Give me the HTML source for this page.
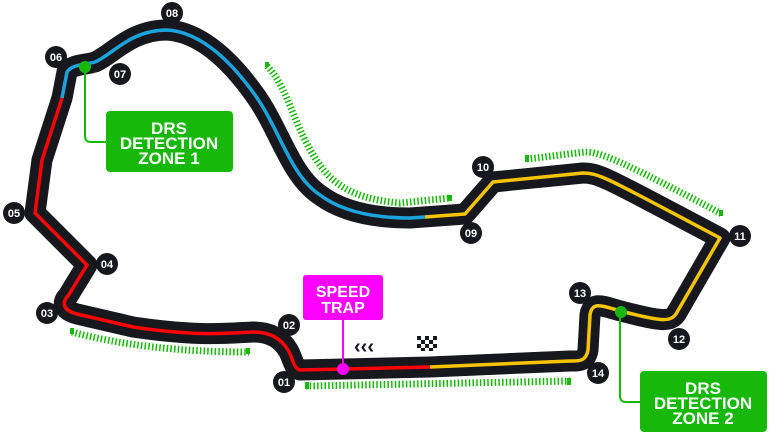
<!DOCTYPE html>
<html><head><meta charset="utf-8"><style>
html,body{margin:0;padding:0;background:#fff;width:771px;height:434px;overflow:hidden}
svg{display:block}
text{font-family:"Liberation Sans",sans-serif;font-weight:bold}
</style></head><body>
<svg width="771" height="434" viewBox="0 0 771 434" xmlns="http://www.w3.org/2000/svg">
<g fill="none" stroke="#17b80a" stroke-width="7" stroke-dasharray="1.5 2.2">
<path d="M267 66 C285 85 290 110 305 140 C325 180 345 198 400 203 L450 198"/>
<path d="M72 332 C120 345 180 352 249 352"/>
<path d="M306 386 L570 381"/>
<path d="M527 159 L585 152 C600 152 620 160 722 214"/>
</g>
<g fill="#17b80a"><rect x="265" y="62" width="4" height="5"/><rect x="448" y="195" width="4" height="6"/><rect x="70" y="328" width="4" height="6"/><rect x="246" y="348" width="4" height="6"/><rect x="305" y="382" width="4" height="7"/><rect x="567" y="378" width="4" height="7"/><rect x="525" y="155" width="4" height="7"/><rect x="719" y="210" width="4" height="6"/></g>
<path d="M430 367 L300 370 C293 368 293 358 288 350 C282 340 272 332 253 332 C230 333 200 337 133 327 L77 314 C62 310 62 302 68 296 L87 265 L35 213 L42 160 L62 98 L67 72 C72 64 85 65 95 62 C112 55 130 30 167 30 C200 32 230 60 255 95 C280 130 290 175 320 195 C340 210 370 218 410 218 L465 214 L493 182 L583 173 C600 173 610 180 720 238 L676 314 C670 322 662 322 617 310 C600 305 592 302 590 315 L588 350 C586 362 578 361 570 361 Z" fill="none" stroke="#17171e" stroke-width="21" stroke-linejoin="round"/>
<g fill="none" stroke-width="3.5" stroke-linejoin="round">
<path d="M430 367 L300 370 C293 368 293 358 288 350 C282 340 272 332 253 332 C230 333 200 337 133 327 L77 314 C62 310 62 302 68 296 L87 265 L35 213 L42 160 L62 98" stroke="#f00"/>
<path d="M62 98 L67 72 C72 64 85 65 95 62 C112 55 130 30 167 30 C200 32 230 60 255 95 C280 130 290 175 320 195 C340 210 370 218 410 218 L425 217" stroke="#1ba4dc"/>
<path d="M425 217 L465 214 L493 182 L583 173 C600 173 610 180 720 238 L676 314 C670 322 662 322 617 310 C600 305 592 302 590 315 L588 350 C586 362 578 361 570 361 L430 367" stroke="#f5c400"/>
</g>
<path d="M85 67 V136 Q85 142 91 142 H106" fill="none" stroke="#17b80a" stroke-width="2"/>
<circle cx="85" cy="67" r="6" fill="#17b80a"/>
<rect x="106" y="111" width="127" height="61" rx="4" fill="#17b80a"/>
<text fill="#fff" font-size="17" text-anchor="middle"><tspan x="169" y="134">DRS</tspan><tspan x="169" y="149">DETECTION</tspan><tspan x="169" y="164">ZONE 1</tspan></text>
<path d="M620 313 V396 Q620 402 626 402 H641" fill="none" stroke="#17b80a" stroke-width="2"/>
<circle cx="621" cy="312" r="6" fill="#17b80a"/>
<rect x="640" y="371" width="127" height="61" rx="4" fill="#17b80a"/>
<text fill="#fff" font-size="17" text-anchor="middle"><tspan x="703" y="394">DRS</tspan><tspan x="703" y="409">DETECTION</tspan><tspan x="703" y="424">ZONE 2</tspan></text>
<line x1="343" y1="318" x2="343" y2="368" stroke="#f0f" stroke-width="2"/>
<circle cx="343" cy="369" r="6" fill="#f0f"/>
<rect x="303" y="275" width="80" height="45" rx="3" fill="#f0f"/>
<text fill="#fff" font-size="16" text-anchor="middle"><tspan x="343" y="297">SPEED</tspan><tspan x="343" y="313">TRAP</tspan></text>
<text x="364" y="353" font-size="20" fill="#17171e" text-anchor="middle">‹‹‹</text>
<g fill="#17171e"><rect x="417" y="336" width="4" height="4"/><rect x="425" y="336" width="4" height="4"/><rect x="433" y="336" width="4" height="4"/><rect x="421" y="340" width="4" height="4"/><rect x="429" y="340" width="4" height="4"/><rect x="417" y="344" width="4" height="4"/><rect x="425" y="344" width="4" height="4"/><rect x="433" y="344" width="4" height="4"/><rect x="421" y="348" width="4" height="3"/><rect x="429" y="348" width="4" height="3"/></g>
<g font-size="11" fill="#fff" text-anchor="middle">
<circle cx="284" cy="382" r="11" fill="#17171e"/><text x="284" y="386">01</text>
<circle cx="289" cy="325" r="11" fill="#17171e"/><text x="289" y="329">02</text>
<circle cx="47" cy="313" r="11" fill="#17171e"/><text x="47" y="317">03</text>
<circle cx="107" cy="264" r="11" fill="#17171e"/><text x="107" y="268">04</text>
<circle cx="14" cy="213" r="11" fill="#17171e"/><text x="14" y="217">05</text>
<circle cx="56" cy="57" r="11" fill="#17171e"/><text x="56" y="61">06</text>
<circle cx="120" cy="74" r="11" fill="#17171e"/><text x="120" y="78">07</text>
<circle cx="172" cy="13" r="11" fill="#17171e"/><text x="172" y="17">08</text>
<circle cx="471" cy="233" r="11" fill="#17171e"/><text x="471" y="237">09</text>
<circle cx="483" cy="167" r="11" fill="#17171e"/><text x="483" y="171">10</text>
<circle cx="740" cy="236" r="11" fill="#17171e"/><text x="740" y="240">11</text>
<circle cx="679" cy="339" r="11" fill="#17171e"/><text x="679" y="343">12</text>
<circle cx="580" cy="293" r="11" fill="#17171e"/><text x="580" y="297">13</text>
<circle cx="598" cy="373" r="11" fill="#17171e"/><text x="598" y="377">14</text>
</g>
</svg>
</body></html>
